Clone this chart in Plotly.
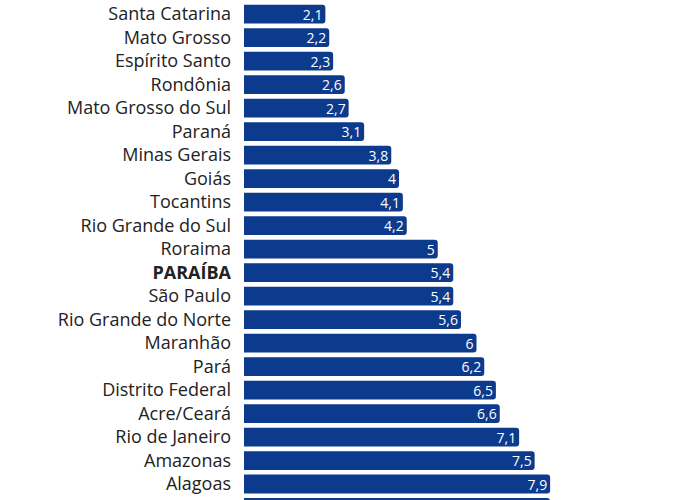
import plotly.graph_objects as go

# States, top to bottom as drawn
states = [
    "Santa Catarina", "Mato Grosso", "Espírito Santo", "Rondônia",
    "Mato Grosso do Sul", "Paraná", "Minas Gerais", "Goiás", "Tocantins",
    "Rio Grande do Sul", "Roraima", "PARAÍBA", "São Paulo",
    "Rio Grande do Norte", "Maranhão", "Pará", "Distrito Federal",
    "Acre/Ceará", "Rio de Janeiro", "Amazonas", "Alagoas", "Bahia",
]
values = [
    2.1, 2.2, 2.3, 2.6, 2.7, 3.1, 3.8, 4.0, 4.1, 4.2, 5.0, 5.4, 5.4,
    5.6, 6.0, 6.2, 6.5, 6.6, 7.1, 7.5, 7.9, 7.9,
]
highlight = "PARAÍBA"

tick_text = [f"<b>{s}</b>" if s == highlight else s for s in states]
bar_text = [f"{v:g}".replace(".", ",") for v in values]
bar_text[-1] = ""  # last bar is cropped at the bottom edge, its label isn't visible

fig = go.Figure(
    go.Bar(
        x=values,
        y=states,
        orientation="h",
        width=0.8,
        marker=dict(color="#0c3a8c", line=dict(width=0)),
        text=bar_text,
        textposition="inside",
        insidetextanchor="end",
        textangle=0,
        textfont=dict(family="Open Sans", size=14, color="white"),
        constraintext="none",
        hoverinfo="skip",
    )
)

fig.update_layout(
    width=678,
    height=500,
    margin=dict(l=244, r=0, t=0, b=0),
    plot_bgcolor="white",
    paper_bgcolor="white",
    showlegend=False,
    barcornerradius=3,
    font=dict(family="Open Sans", color="#222222"),
)
fig.update_xaxes(visible=False, range=[0, 11.2], automargin=False)
fig.update_yaxes(
    range=[20.68, -0.6],
    automargin=False,
    tickmode="array",
    tickvals=states,
    ticktext=tick_text,
    tickfont=dict(family="Open Sans", size=18, color="#222222"),
    showgrid=False,
    zeroline=False,
    showline=False,
    ticks="",
    ticklabelstandoff=12,
)

# drop the default page margin so the figure sits at the window corner
fig.write_html(
    "out.html",
    config={"displayModeBar": False},
    post_script="document.body.style.margin='0px';",
)
